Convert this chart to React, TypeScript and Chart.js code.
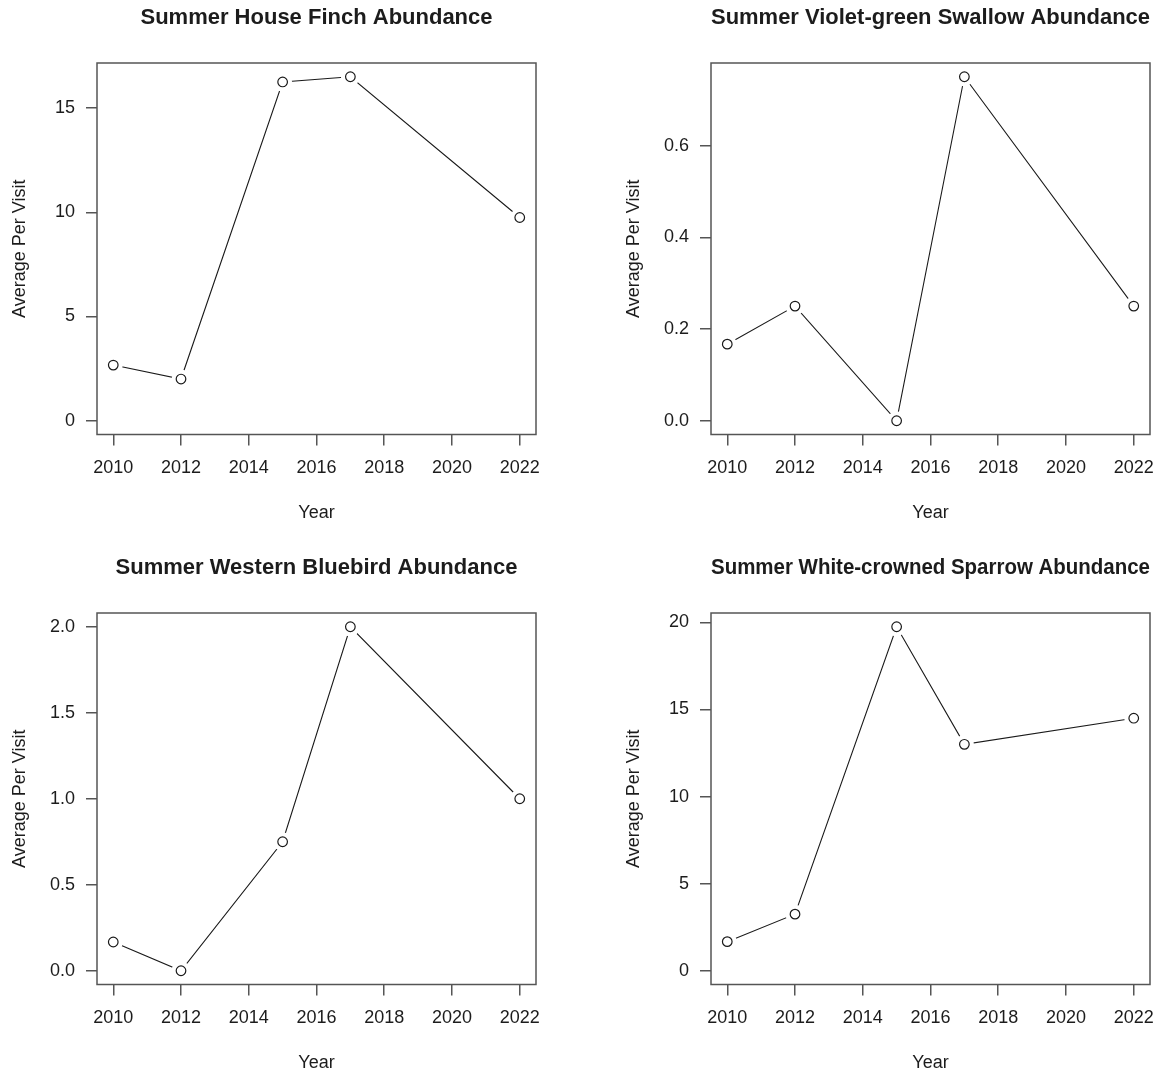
import React, { useEffect, useRef } from "react";
import { Chart, registerables } from "chart.js";

Chart.register(...registerables);

// ---- Data ----
const years = [2010, 2012, 2015, 2017, 2022];

const houseFinch = [2.67, 2.0, 16.25, 16.5, 9.75];
const violetGreenSwallow = [0.167, 0.25, 0.0, 0.75, 0.25];
const westernBluebird = [0.167, 0.0, 0.75, 2.0, 1.0];
const whiteCrownedSparrow = [1.67, 3.25, 19.75, 13.0, 14.5];

const xTickValues = [2010, 2012, 2014, 2016, 2018, 2020, 2022];
const xTickLabels = ["2010", "2012", "2014", "2016", "2018", "2020", "2022"];

const houseFinchTicks = [0, 5, 10, 15];
const houseFinchTickLabels = ["0", "5", "10", "15"];
const swallowTicks = [0, 0.2, 0.4, 0.6];
const swallowTickLabels = ["0.0", "0.2", "0.4", "0.6"];
const bluebirdTicks = [0, 0.5, 1.0, 1.5, 2.0];
const bluebirdTickLabels = ["0.0", "0.5", "1.0", "1.5", "2.0"];
const sparrowTicks = [0, 5, 10, 15, 20];
const sparrowTickLabels = ["0", "5", "10", "15", "20"];

const titles = [
  "Summer House Finch Abundance",
  "Summer Violet-green Swallow Abundance",
  "Summer Western Bluebird Abundance",
  "Summer White-crowned Sparrow Abundance",
];
const xAxisTitle = "Year";
const yAxisTitle = "Average Per Visit";

// ---- Styles ----
const FONT = '"Liberation Sans", Arial, Helvetica, sans-serif';
const TEXT = "#1c1c1c";
const AXIS = "#555555";
const LINE = "#1a1a1a";

const CANVAS_W = 559;
const CANVAS_H = 526;

const boxPlugin = {
  id: "rBox",
  afterDatasetsDraw(chart: any) {
    const { ctx, chartArea: a } = chart;
    ctx.save();
    ctx.strokeStyle = AXIS;
    ctx.lineWidth = 1.5;
    ctx.strokeRect(a.left, a.top, a.right - a.left, a.bottom - a.top);
    ctx.restore();
  },
};

type PanelProps = {
  title: string;
  values: number[];
  yTicks: number[];
  yTickLabels: string[];
  left: number;
  top: number;
};

function Panel({ title, values, yTicks, yTickLabels, left, top }: PanelProps) {
  const ref = useRef<HTMLCanvasElement>(null);

  useEffect(() => {
    const canvas = ref.current!;
    const ymax = Math.max(...values);
    const xmin = Math.min(...years);
    const xmax = Math.max(...years);
    const xpad = (xmax - xmin) * 0.04;
    const pts = years.map((yr, i) => ({ x: yr, y: values[i] }));

    const tickFont = { family: FONT, size: 18, lineHeight: 1.2 };

    const chart = new Chart(canvas, {
      type: "line",
      data: {
        datasets: [
          {
            data: pts,
            showLine: false,
            pointRadius: 4.8,
            pointBorderColor: LINE,
            pointBackgroundColor: "#ffffff",
            pointBorderWidth: 1.2,
          },
          {
            data: pts,
            showLine: true,
            borderColor: LINE,
            borderWidth: 1.1,
            tension: 0,
            fill: false,
            pointRadius: 9.5,
            pointBackgroundColor: "#ffffff",
            pointBorderColor: "rgba(0,0,0,0)",
            pointBorderWidth: 0,
          },
        ],
      },
      options: {
        responsive: false,
        animation: false,
        events: [],
        layout: { padding: { left: 0, top: 0, right: 23, bottom: 0 } },
        plugins: {
          legend: { display: false },
          tooltip: { enabled: false },
          title: {
            display: true,
            text: title,
            fullSize: false,
            color: TEXT,
            font: { family: FONT, size: 22, weight: "bold", lineHeight: 1.2 },
            padding: { top: 5.1, bottom: 31.5 },
          },
        },
        scales: {
          x: {
            type: "linear",
            position: "bottom",
            min: xmin - xpad,
            max: xmax + xpad,
            afterBuildTicks: (s: any) => {
              s.ticks = xTickValues.map((v) => ({ value: v }));
            },
            afterFit: (s: any) => {
              s.height = 91.5;
              s.paddingLeft = 0;
              s.paddingRight = 0;
            },
            grid: {
              drawOnChartArea: false,
              drawTicks: true,
              tickLength: 11,
              color: AXIS,
              lineWidth: 1.5,
            },
            border: { display: false },
            ticks: {
              padding: 12,
              color: TEXT,
              font: tickFont,
              maxRotation: 0,
              autoSkip: false,
              callback: (_v: any, i: number) => xTickLabels[i],
            },
            title: {
              display: true,
              text: xAxisTitle,
              color: TEXT,
              font: tickFont,
              padding: { top: 0, bottom: 2.5 },
            },
          },
          y: {
            type: "linear",
            position: "left",
            min: -0.04 * ymax,
            max: 1.04 * ymax,
            afterBuildTicks: (s: any) => {
              s.ticks = yTicks.map((v) => ({ value: v }));
            },
            afterFit: (s: any) => {
              s.width = 97;
              s.paddingTop = 0;
              s.paddingBottom = 0;
            },
            grid: {
              drawOnChartArea: false,
              drawTicks: true,
              tickLength: 11,
              color: AXIS,
              lineWidth: 1.5,
            },
            border: { display: false },
            ticks: {
              padding: 11,
              color: TEXT,
              font: tickFont,
              autoSkip: false,
              callback: (_v: any, i: number) => yTickLabels[i],
            },
            title: {
              display: true,
              text: yAxisTitle,
              color: TEXT,
              font: tickFont,
              padding: { top: 9.2, bottom: 0 },
            },
          },
        },
      },
      plugins: [boxPlugin],
    } as any);

    return () => chart.destroy();
  }, [title, values, yTicks, yTickLabels]);

  return (
    <canvas
      ref={ref}
      width={CANVAS_W}
      height={CANVAS_H}
      style={{ position: "absolute", left, top, width: CANVAS_W, height: CANVAS_H }}
    />
  );
}

export default function App() {
  return (
    <div
      style={{
        position: "absolute",
        left: 0,
        top: 0,
        width: 1173,
        height: 1076,
        background: "#ffffff",
        overflow: "hidden",
      }}
    >
      <Panel title={titles[0]} values={houseFinch} yTicks={houseFinchTicks} yTickLabels={houseFinchTickLabels} left={0} top={0} />
      <Panel title={titles[1]} values={violetGreenSwallow} yTicks={swallowTicks} yTickLabels={swallowTickLabels} left={614} top={0} />
      <Panel title={titles[2]} values={westernBluebird} yTicks={bluebirdTicks} yTickLabels={bluebirdTickLabels} left={0} top={550} />
      <Panel title={titles[3]} values={whiteCrownedSparrow} yTicks={sparrowTicks} yTickLabels={sparrowTickLabels} left={614} top={550} />
    </div>
  );
}
